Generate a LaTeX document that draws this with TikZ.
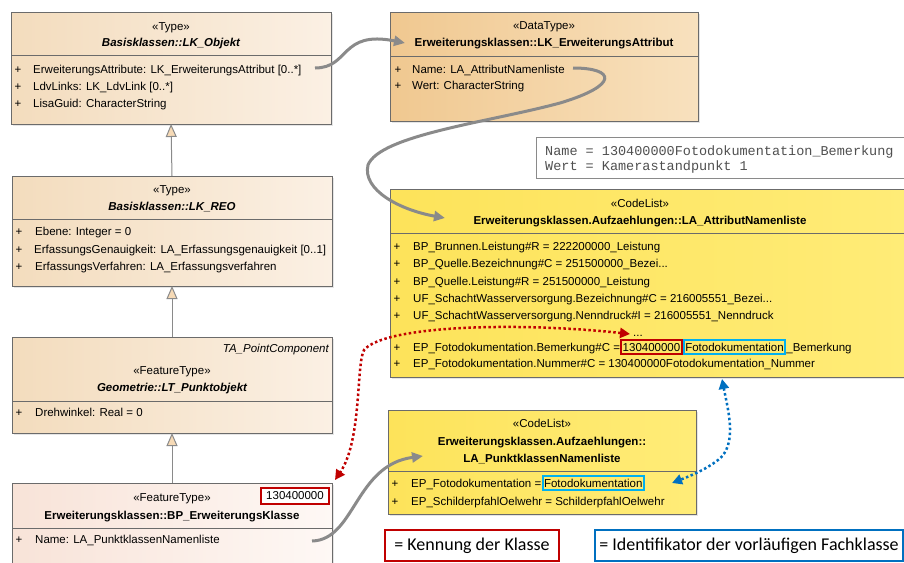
\documentclass[tikz,border=0pt]{standalone}
\usepackage{fontspec}
\setmainfont{Liberation Sans}
\newfontfamily\notizfont{Liberation Mono}
\newfontfamily\legendefont{Carlito}
\usetikzlibrary{arrows.meta,shadows}

\definecolor{typlinks}{HTML}{F3DCBD}
\definecolor{typrechts}{HTML}{FBF0E4}
\definecolor{dtlinks}{HTML}{F0C890}
\definecolor{dtrechts}{HTML}{F8E1BE}
\definecolor{ftlinks}{HTML}{F8E3D8}
\definecolor{ftrechts}{HTML}{FEF8F5}
\definecolor{cllinks}{HTML}{FDE35A}
\definecolor{clrechts}{HTML}{FFEC78}
\definecolor{rand}{HTML}{6B6B6B}
\definecolor{grau}{HTML}{8A8A8A}
\definecolor{genfuell}{HTML}{F6DAB6}
\definecolor{rot}{HTML}{C00000}
\definecolor{blau}{HTML}{0070C0}
\definecolor{hellblau}{HTML}{00B0F0}
\definecolor{notizgrau}{HTML}{505050}

\newcommand{\umlschrift}{\fontsize{11.5}{13}\selectfont}

\begin{document}
\begin{tikzpicture}[x=1pt,y=-1pt]
	\tikzset{klasse/.style={draw=rand, line width=0.8pt, inner sep=0pt, outer sep=0pt,
			drop shadow={shadow xshift=2pt, shadow yshift=-2pt, fill=black!20}},
		trenn/.style={draw=rand, line width=0.8pt},
		txt/.style={inner sep=0pt, anchor=base, font=\umlschrift},
		attr/.style={inner sep=0pt, anchor=base west, font=\umlschrift},
		kasten/.style={inner xsep=1.5pt, inner ysep=2.5pt, text height=8.5pt, text depth=0.5pt,
			anchor=base west, font=\umlschrift, line width=2pt},
		erbt/.style={draw=grau, line width=1pt, -{Triangle[length=13pt,width=11pt,fill=genfuell]}},
		assoz/.style={draw=grau, line width=3pt, -{Triangle[length=11pt,width=10pt]}},
		rotpfeil/.style={draw=rot, line width=2.5pt, dash pattern=on 2.5pt off 2.5pt,
			{Triangle[length=10pt,width=10pt]}-{Triangle[length=10pt,width=10pt]}},
		blaupfeil/.style={draw=blau, line width=2.5pt, dash pattern=on 2.5pt off 2.5pt,
			{Triangle[length=10pt,width=10pt]}-{Triangle[length=10pt,width=10pt]}},
		legende/.style={line width=2pt, fill=white, inner sep=0pt,
			font=\legendefont\fontsize{18}{20}\selectfont}}

	\useasboundingbox (0,0) rectangle (904,562);
	\clip (0,0) rectangle (904,562);
	\fill[white] (0,0) rectangle (904,562);

	% Klassen links
	\node[klasse, left color=typlinks, right color=typrechts, minimum width=320pt, minimum height=112pt] at (171,68) (objekt) {};
	\draw[trenn] (11,55) -- (331,55);
	\node[txt] at (171,30) (objst) {«Type»};
	\node[txt] at (171,46) (objnm) {\bfseries\itshape Basisklassen::LK\_Objekt};
	\node[txt] at (18,73) (obj1p) {+};
	\node[attr] at (33,73) (obj1) {ErweiterungsAttribute: LK\_ErweiterungsAttribut [0..*]};
	\node[txt] at (18,90) (obj2p) {+};
	\node[attr] at (33,90) (obj2) {LdvLinks: LK\_LdvLink [0..*]};
	\node[txt] at (18,107) (obj3p) {+};
	\node[attr] at (33,107) (obj3) {LisaGuid: CharacterString};

	\node[klasse, left color=typlinks, right color=typrechts, minimum width=320pt, minimum height=110pt] at (172,231) (reo) {};
	\draw[trenn] (12,219) -- (332,219);
	\node[txt] at (172,193) (reost) {«Type»};
	\node[txt] at (172,210) (reonm) {\bfseries\itshape Basisklassen::LK\_REO};
	\node[txt] at (19,235) (reo1p) {+};
	\node[attr] at (35,235) (reo1) {Ebene: Integer = 0};
	\node[txt] at (19,253) (reo2p) {+};
	\node[attr] at (34,253) (reo2) {ErfassungsGenauigkeit: LA\_Erfassungsgenauigkeit [0..1]};
	\node[txt] at (19,270) (reo3p) {+};
	\node[attr] at (35,270) (reo3) {ErfassungsVerfahren: LA\_Erfassungsverfahren};

	\node[klasse, left color=typlinks, right color=typrechts, minimum width=320pt, minimum height=96pt] at (172,385) (punktobj) {};
	\draw[trenn] (12,401) -- (332,401);
	\node[txt, anchor=base east] at (329,352) (punktta) {\itshape TA\_PointComponent};
	\node[txt] at (172,374) (punktst) {«FeatureType»};
	\node[txt] at (172,391) (punktnm) {\bfseries\itshape Geometrie::LT\_Punktobjekt};
	\node[txt] at (19,416) (punkt1p) {+};
	\node[attr] at (35,416) (punkt1) {Drehwinkel: Real = 0};

	\node[klasse, left color=ftlinks, right color=ftrechts, minimum width=320pt, minimum height=117pt] at (172,541.5) (erwkl) {};
	\draw[trenn] (12,528) -- (332,528);
	\node[txt] at (172,501) (erwklst) {«FeatureType»};
	\node[txt] at (172,519) (erwklnm) {\bfseries Erweiterungsklassen::BP\_ErweiterungsKlasse};
	\node[draw=rot, line width=2pt, fill=white, font=\umlschrift, inner sep=0pt, minimum width=68pt, minimum height=16pt] at (295,496) (erwklkenn) {130400000};
	\node[txt] at (19,543) (erwkl1p) {+};
	\node[attr] at (35,543) (erwkl1) {Name: LA\_PunktklassenNamenliste};

	% Vererbung
	\draw[erbt] (reo.north) -- (objekt.south);
	\draw[erbt] (punktobj.north) -- (reo.south);
	\draw[erbt] (erwkl.north) -- (punktobj.south);

	% Klassen rechts
	\node[klasse, left color=dtlinks, right color=dtrechts, minimum width=308pt, minimum height=109pt] at (544,66.5) (erwattr) {};
	\draw[trenn] (390,56) -- (698,56);
	\node[txt] at (544,29) (erwattrst) {«DataType»};
	\node[txt] at (544,46) (erwattrnm) {\bfseries Erweiterungsklassen::LK\_ErweiterungsAttribut};
	\node[txt] at (398,73) (erwattr1p) {+};
	\node[attr] at (412,73) (erwattr1) {Name: LA\_AttributNamenliste};
	\node[txt] at (398,89) (erwattr2p) {+};
	\node[attr] at (412,89) (erwattr2) {Wert: CharacterString};

	\node[draw=grau, line width=1pt, fill=white, inner sep=0pt, minimum width=384pt, minimum height=41pt] at (728,157.5) (notiz) {};
	\node[anchor=base west, inner sep=0pt, text=notizgrau, font=\notizfont\fontsize{13.5}{15}\selectfont] at (545,155) (notiz1) {Name = 130400000Fotodokumentation\_Bemerkung};
	\node[anchor=base west, inner sep=0pt, text=notizgrau, font=\notizfont\fontsize{13.5}{15}\selectfont] at (545,170) (notiz2) {Wert = Kamerastandpunkt 1};

	\node[klasse, left color=cllinks, right color=clrechts, minimum width=530pt, minimum height=188pt] at (655,283) (attrliste) {};
	\draw[trenn] (390,233) -- (920,233);
	\node[txt] at (640,207) (attrlistest) {«CodeList»};
	\node[txt] at (640,224) (attrlistenm) {\bfseries Erweiterungsklassen.Aufzaehlungen::LA\_AttributNamenliste};
	\node[txt] at (397,250) (al1p) {+};
	\node[attr] at (413,250) (al1) {BP\_Brunnen.Leistung\#R = 222200000\_Leistung};
	\node[txt] at (397,267) (al2p) {+};
	\node[attr] at (413,267) (al2) {BP\_Quelle.Bezeichnung\#C = 251500000\_Bezei...};
	\node[txt] at (397,285) (al3p) {+};
	\node[attr] at (413,285) (al3) {BP\_Quelle.Leistung\#R = 251500000\_Leistung};
	\node[txt] at (397,302) (al4p) {+};
	\node[attr] at (413,302) (al4) {UF\_SchachtWasserversorgung.Bezeichnung\#C = 216005551\_Bezei...};
	\node[txt] at (397,319) (al5p) {+};
	\node[attr] at (413,319) (al5) {UF\_SchachtWasserversorgung.Nenndruck\#I = 216005551\_Nenndruck};
	\node[attr] at (633,336) (al6) {...};
	\node[txt] at (397,351) (al7p) {+};
	\node[attr] at (413,351) (al7) {EP\_Fotodokumentation.Bemerkung\#C = };
	\node[kasten, draw=rot] at (al7.base east) (al7kenn) {130400000};
	\node[kasten, draw=hellblau] at (al7kenn.base east) (al7ident) {Fotodokumentation};
	\node[attr] at (al7ident.base east) (al7rest) {\_Bemerkung};
	\node[txt] at (397,367) (al8p) {+};
	\node[attr] at (413,367) (al8) {EP\_Fotodokumentation.Nummer\#C = 130400000Fotodokumentation\_Nummer};

	\node[klasse, left color=cllinks, right color=clrechts, minimum width=308pt, minimum height=104pt] at (542,462) (klliste) {};
	\draw[trenn] (388,471) -- (696,471);
	\node[txt] at (542,427) (kllistest) {«CodeList»};
	\node[txt] at (542,445) (kllistenm1) {\bfseries Erweiterungsklassen.Aufzaehlungen::};
	\node[txt] at (542,462) (kllistenm2) {\bfseries LA\_PunktklassenNamenliste};
	\node[txt] at (395,487) (kl1p) {+};
	\node[attr] at (411,487) (kl1) {EP\_Fotodokumentation = };
	\node[kasten, draw=hellblau] at (kl1.base east) (kl1ident) {Fotodokumentation};
	\node[txt] at (395,505) (kl2p) {+};
	\node[attr] at (411,505) (kl2) {EP\_SchilderpfahlOelwehr = SchilderpfahlOelwehr};

	% Assoziationen
	\coordinate (ass1a) at (315,68);
	\coordinate (ass1b) at (405,43);
	\coordinate (ass2a) at (573,68);
	\coordinate (ass2b) at (445,218);
	\coordinate (ass3a) at (312,541);
	\coordinate (ass3b) at (423,456);
	\draw[assoz] (ass1a) .. controls (350,68) and (340,30) .. (ass1b);
	\draw[assoz] (ass2a) .. controls (615,68) and (620,85) .. (560,103)
		.. controls (490,122) and (380,135) .. (368,165)
		.. controls (362,190) and (400,210) .. (ass2b);
	\draw[assoz] (ass3a) .. controls (355,540) and (355,465) .. (ass3b);

	% Kennung und Identifikator
	\coordinate (rotziel) at (630,334);
	\coordinate (blauziel) at (722,379);
	\coordinate (blaustart) at (672,483);
	\draw[rotpfeil] (rotziel) .. controls (520,322) and (385,325) .. (364,350)
		.. controls (356,365) and (362,440) .. ([xshift=3pt,yshift=3pt]erwkl.north east);
	\draw[blaupfeil] (blauziel) .. controls (728,410) and (738,445) .. (718,460)
		.. controls (705,470) and (690,476) .. (blaustart);

	% Legende
	\node[legende, draw=rot, minimum width=174pt, minimum height=31pt] at (472,545.5) (legrot) {= Kennung der Klasse};
	\node[legende, draw=blau, minimum width=308pt, minimum height=31pt] at (749,545.5) (legblau) {= Identifikator der vorläufigen Fachklasse};

\end{tikzpicture}
\end{document}
